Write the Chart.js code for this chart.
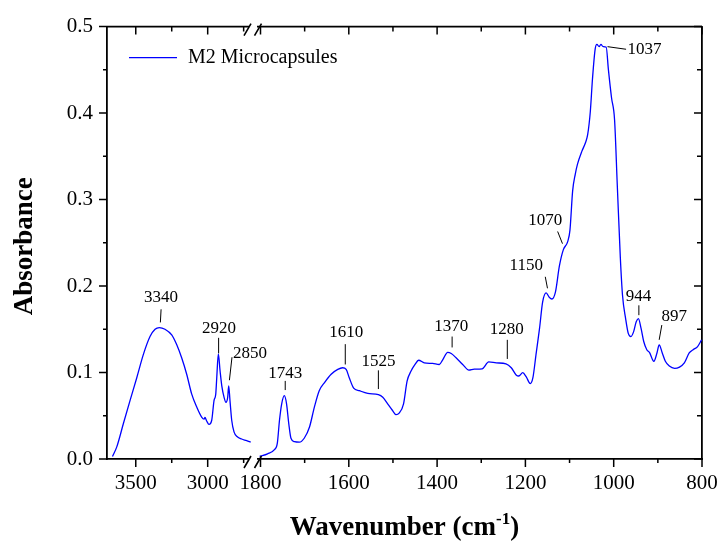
<!DOCTYPE html>
<html>
<head>
<meta charset="utf-8">
<script src="https://cdn.jsdelivr.net/npm/chart.js@4.4.1/dist/chart.umd.min.js"></script>
<style>
  html, body { margin: 0; padding: 0; background: #fff; }
  #wrap { position: relative; width: 723px; height: 544px; }
</style>
</head>
<body>
<div id="wrap"><canvas id="chartFtir" width="723" height="544"></canvas></div>
<script>
/* Espectro FTIR */
const seriesName = 'M2 Microcapsules';

// zona alta (3700 - 2685 cm-1)
const waveHigh = [3662, 3632, 3586, 3540, 3493, 3447, 3401, 3366, 3336, 3297, 3250, 3215, 3181, 3146, 3111,
  3076, 3042, 3025, 3019, 3007, 2991, 2972, 2956, 2944, 2937, 2926, 2914, 2902, 2886, 2873, 2861, 2854, 2845,
  2833, 2817, 2794, 2764, 2729, 2701];
const absHigh = [0.003, 0.014, 0.041, 0.0675, 0.094, 0.121, 0.1416, 0.150, 0.152, 0.150, 0.1435, 0.132, 0.117, 0.098, 0.075,
  0.060, 0.0485, 0.046, 0.048, 0.044, 0.040, 0.0448, 0.0675, 0.075, 0.094, 0.1214, 0.102, 0.0846, 0.0713, 0.0656, 0.0713, 0.0846, 0.0675,
  0.0448, 0.0314, 0.0257, 0.0231, 0.0212, 0.0194];

// zona baja (1817 - 800 cm-1)
const waveLow = [1802, 1784, 1769, 1762, 1757, 1752, 1746, 1741, 1736, 1731, 1723, 1712, 1701, 1689, 1678, 1667,
  1655, 1640, 1625, 1614, 1606, 1599, 1589, 1576, 1557, 1533, 1523, 1512, 1501, 1493, 1486, 1476, 1468, 1459,
  1450, 1442, 1429, 1410, 1395, 1387, 1376, 1368, 1357, 1342, 1328, 1316, 1298, 1283, 1266, 1244, 1232, 1221,
  1215, 1206, 1198, 1189, 1183, 1176, 1168, 1161, 1153, 1146, 1140, 1132, 1123, 1114, 1104, 1099, 1093, 1087,
  1082, 1072, 1064, 1059, 1053, 1048, 1042, 1038, 1033, 1029, 1024, 1017, 1012, 1005, 998, 992, 985, 980, 973,
  967, 961, 955, 949, 944, 938, 932, 925, 919, 909, 902, 897, 890, 883, 874, 862, 851, 840, 829, 820, 810, 801];
const absLow = [0.003, 0.006, 0.0106, 0.018, 0.0448, 0.0638, 0.0732, 0.0638, 0.041, 0.024, 0.020, 0.0194, 0.024, 0.037, 0.060, 0.079,
  0.0884, 0.098, 0.1036, 0.1055, 0.1036, 0.094, 0.082, 0.079, 0.0759, 0.0744, 0.0713, 0.0638, 0.0561, 0.0513, 0.053, 0.0638, 0.090, 0.1017,
  0.1093, 0.1142, 0.1112, 0.1105, 0.1093, 0.115, 0.1233, 0.122, 0.117, 0.1093, 0.1028, 0.104, 0.1043, 0.1123, 0.1112, 0.110, 0.1055, 0.0972,
  0.096, 0.0998, 0.0949, 0.0872, 0.094, 0.1207, 0.151, 0.1814, 0.192, 0.187, 0.185, 0.193, 0.2232, 0.2421, 0.2517, 0.265, 0.310, 0.3295,
  0.341, 0.356, 0.3656, 0.375, 0.4016, 0.44, 0.474, 0.4795, 0.4768, 0.4795, 0.4768, 0.4764, 0.4502, 0.418, 0.392, 0.318, 0.233, 0.189, 0.1624,
  0.1453, 0.1416, 0.147, 0.1587, 0.1624, 0.151, 0.1359, 0.1264, 0.1233, 0.113, 0.1226, 0.132, 0.1226, 0.113, 0.1074, 0.1048, 0.1063, 0.1112, 0.1226, 0.1264, 0.130, 0.1378];

// ticks principales
const ticksHigh = [3500, 3000];
const ticksLow = [1800, 1600, 1400, 1200, 1000, 800];
const ticksAbs = [0, 0.1, 0.2, 0.3, 0.4, 0.5];

// etiquetas de picos (texto, eje, posicion del texto y de la linea guia en unidades de datos)
const peakNotes = [
  { axis: 'xl', text: '3340', tx: 3324, ty: 0.1862, x1: 3324, y1: 0.1731, x2: 3329, y2: 0.1579 },
  { axis: 'xl', text: '2920', tx: 2922, ty: 0.1507, x1: 2924, y1: 0.1401, x2: 2924, y2: 0.1222 },
  { axis: 'xl', text: '2850', tx: 2706, ty: 0.1222, x1: 2831, y1: 0.1177, x2: 2849, y2: 0.0911 },
  { axis: 'xr', text: '1743', tx: 1744, ty: 0.0994, x1: 1744, y1: 0.0903, x2: 1744, y2: 0.0797 },
  { axis: 'xr', text: '1610', tx: 1606, ty: 0.1462, x1: 1608, y1: 0.1328, x2: 1608, y2: 0.1093 },
  { axis: 'xr', text: '1525', tx: 1533, ty: 0.1132, x1: 1533, y1: 0.1025, x2: 1533, y2: 0.0809 },
  { axis: 'xr', text: '1370', tx: 1368, ty: 0.153, x1: 1366, y1: 0.1416, x2: 1366, y2: 0.129 },
  { axis: 'xr', text: '1280', tx: 1242, ty: 0.1495, x1: 1241, y1: 0.1378, x2: 1241, y2: 0.1157 },
  { axis: 'xr', text: '1150', tx: 1198, ty: 0.2236, x1: 1155, y1: 0.2107, x2: 1150, y2: 0.1974 },
  { axis: 'xr', text: '1070', tx: 1155, ty: 0.276, x1: 1127, y1: 0.2631, x2: 1116, y2: 0.249 },
  { axis: 'xr', text: '1037', tx: 930, ty: 0.473, x1: 1014, y1: 0.4768, x2: 972, y2: 0.4738 },
  { axis: 'xr', text: '944', tx: 944, ty: 0.1884, x1: 943, y1: 0.1777, x2: 943, y2: 0.1663 },
  { axis: 'xr', text: '897', tx: 863, ty: 0.1649, x1: 891, y1: 0.1549, x2: 897, y2: 0.1378 },
];

const serif = "'Liberation Serif', 'Times New Roman', serif";
const lineBlue = '#0000ff';

function toPoints(xs, ys) {
  let pts = [];
  for (let i = 0; i < xs.length; i++) pts.push({ x: xs[i], y: ys[i] });
  return pts;
}

/* ticks menores: a mitad de camino entre principales, dentro del rango */
function minorValues(scale) {
  const vals = scale.ticks.map((t) => t.value);
  const half = Math.abs(vals[1] - vals[0]) / 2;
  let out = [];
  let k = Math.ceil(scale.min / half - 1e-9);
  for (; k * half <= scale.max + 1e-9; k++) {
    const v = k * half;
    if (!vals.some((m) => Math.abs(m - v) < half / 10)) out.push(v);
  }
  return out;
}

/* Marco, ticks, corte del eje, etiquetas y leyenda */
const ftirDecor = {
  id: 'ftirDecor',
  afterDraw(chart) {
    const { ctx, chartArea: a, scales } = chart;
    const { xl, xr, y } = scales;
    ctx.save();
    ctx.strokeStyle = '#000';
    ctx.fillStyle = '#000';

    // borde superior
    ctx.lineWidth = 1.8;
    ctx.beginPath();
    ctx.moveTo(a.left, a.top);
    ctx.lineTo(a.right, a.top);
    ctx.stroke();

    // ticks
    ctx.lineWidth = 1.5;
    ctx.beginPath();
    [xl, xr].forEach((s) => {
      s.ticks.forEach((t) => {
        const px = s.getPixelForValue(t.value);
        ctx.moveTo(px, a.bottom); ctx.lineTo(px, a.bottom + 8);
        ctx.moveTo(px, a.top); ctx.lineTo(px, a.top + 8);
      });
      minorValues(s).forEach((v) => {
        const px = s.getPixelForValue(v);
        ctx.moveTo(px, a.bottom); ctx.lineTo(px, a.bottom + 4);
        ctx.moveTo(px, a.top); ctx.lineTo(px, a.top + 5);
      });
    });
    y.ticks.forEach((t) => {
      const py = y.getPixelForValue(t.value);
      ctx.moveTo(a.left - 8, py); ctx.lineTo(a.left, py);
      ctx.moveTo(a.right - 8, py); ctx.lineTo(a.right, py);
    });
    minorValues(y).forEach((v) => {
      const py = y.getPixelForValue(v);
      ctx.moveTo(a.left - 4, py); ctx.lineTo(a.left, py);
      ctx.moveTo(a.right - 5, py); ctx.lineTo(a.right, py);
    });
    ctx.stroke();

    // corte del eje x
    const b = xl.right;
    [a.top, a.bottom].forEach((ay) => {
      ctx.fillStyle = '#fff';
      ctx.fillRect(b - 4, ay - 2, 8, 4);
      ctx.lineWidth = 1.6;
      ctx.beginPath();
      [b - 5.5, b + 5].forEach((cx) => {
        ctx.moveTo(cx - 3.5, ay + 9);
        ctx.lineTo(cx + 3.5, ay - 3);
      });
      ctx.stroke();
    });

    // etiquetas de picos
    ctx.fillStyle = '#000';
    ctx.lineWidth = 1;
    ctx.font = `17px ${serif}`;
    ctx.textAlign = 'center';
    ctx.textBaseline = 'middle';
    peakNotes.forEach((n) => {
      const sx = scales[n.axis];
      ctx.fillText(n.text, sx.getPixelForValue(n.tx), y.getPixelForValue(n.ty));
      ctx.beginPath();
      ctx.moveTo(sx.getPixelForValue(n.x1), y.getPixelForValue(n.y1));
      ctx.lineTo(sx.getPixelForValue(n.x2), y.getPixelForValue(n.y2));
      ctx.stroke();
    });

    // leyenda
    const ly = a.top + 31;
    ctx.strokeStyle = lineBlue;
    ctx.lineWidth = 1.1;
    ctx.beginPath();
    ctx.moveTo(a.left + 22, ly);
    ctx.lineTo(a.left + 70, ly);
    ctx.stroke();
    ctx.font = `20px ${serif}`;
    ctx.textAlign = 'left';
    ctx.fillText(chart.data.datasets[0].label, a.left + 81, ly);

    // titulos de ejes
    ctx.fillStyle = '#000';
    ctx.textBaseline = 'alphabetic';
    const big = `bold 27px ${serif}`;
    const sup = `bold 17px ${serif}`;
    const t1 = 'Wavenumber (cm', t2 = '-1', t3 = ')';
    ctx.font = big;
    const w1 = ctx.measureText(t1).width, w3 = ctx.measureText(t3).width;
    ctx.font = sup;
    const w2 = ctx.measureText(t2).width;
    let tx = (a.left + a.right) / 2 - (w1 + w2 + w3) / 2;
    const by = 535;
    ctx.font = big;
    ctx.fillText(t1, tx, by);
    ctx.font = sup;
    ctx.fillText(t2, tx + w1, by - 11);
    ctx.font = big;
    ctx.fillText(t3, tx + w1 + w2, by);

    ctx.translate(32, (a.top + a.bottom) / 2 + 3.5);
    ctx.rotate(-Math.PI / 2);
    ctx.textAlign = 'center';
    ctx.fillText('Absorbance', 0, 0);
    ctx.restore();
  },
};

const tickFont = { family: serif, size: 21 };
const axisBorder = { display: true, color: '#000', width: 1.8 };
const noGrid = { display: false, drawTicks: false, tickLength: 0 };

function fitX(s) {
  s.height = 85;
  s.paddingLeft = 0;
  s.paddingRight = 0;
}

const cmc = document.getElementById('chartFtir');
const chartFtir = new Chart(cmc, {
  type: 'line',
  data: {
    datasets: [
      {
        label: seriesName,
        data: toPoints(waveHigh, absHigh),
        xAxisID: 'xl',
        yAxisID: 'y',
        borderColor: lineBlue,
        borderWidth: 1.3,
        pointRadius: 0,
        cubicInterpolationMode: 'monotone',
      },
      {
        label: seriesName,
        data: toPoints(waveLow, absLow),
        xAxisID: 'xr',
        yAxisID: 'y',
        borderColor: lineBlue,
        borderWidth: 1.3,
        pointRadius: 0,
        cubicInterpolationMode: 'monotone',
      },
    ],
  },
  options: {
    responsive: false,
    animation: false,
    layout: { padding: { top: 20, left: 0, right: 0, bottom: 0 } },
    plugins: {
      legend: { display: false },
      tooltip: { enabled: false },
    },
    scales: {
      xl: {
        type: 'linear',
        position: 'bottom',
        stack: 'wave',
        stackWeight: 146,
        reverse: true,
        min: 2685,
        max: 3700,
        afterBuildTicks: (s) => { s.ticks = ticksHigh.map((v) => ({ value: v })); },
        afterFit: fitX,
        grid: noGrid,
        border: axisBorder,
        ticks: { autoSkip: false, maxRotation: 0, padding: 12, font: tickFont, color: '#000', callback: (v) => String(v) },
      },
      xr: {
        type: 'linear',
        position: 'bottom',
        stack: 'wave',
        stackWeight: 449,
        reverse: true,
        min: 800,
        max: 1817,
        afterBuildTicks: (s) => { s.ticks = ticksLow.map((v) => ({ value: v })); },
        afterFit: fitX,
        grid: noGrid,
        border: axisBorder,
        ticks: { autoSkip: false, maxRotation: 0, padding: 12, font: tickFont, color: '#000', callback: (v) => String(v) },
      },
      y: {
        type: 'linear',
        position: 'left',
        min: 0,
        max: 0.5,
        afterBuildTicks: (s) => { s.ticks = ticksAbs.map((v) => ({ value: v })); },
        afterFit: (s) => { s.width = 107; },
        grid: noGrid,
        border: axisBorder,
        ticks: { padding: 14, font: tickFont, color: '#000', callback: (v) => v.toFixed(1) },
      },
      yr: {
        type: 'linear',
        position: 'right',
        min: 0,
        max: 0.5,
        afterFit: (s) => { s.width = 21; },
        grid: noGrid,
        border: axisBorder,
        ticks: { display: false },
      },
    },
  },
  plugins: [ftirDecor],
});
</script>
</body>
</html>
